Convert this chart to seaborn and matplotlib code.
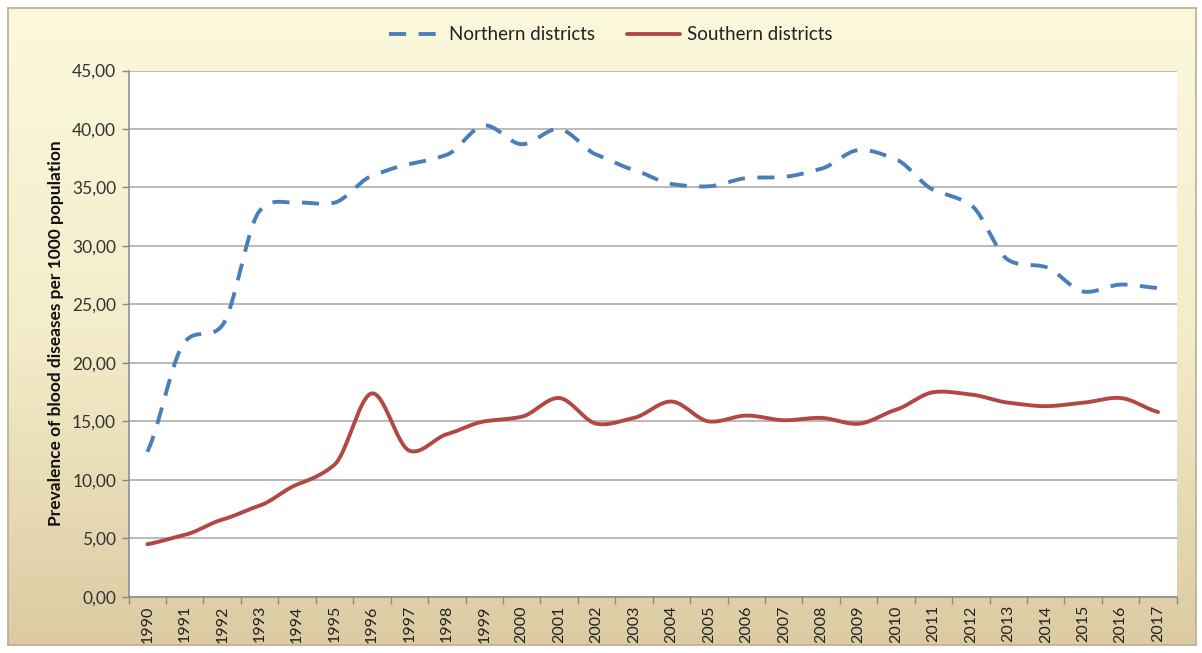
import numpy as np
import pandas as pd
import seaborn as sns
import matplotlib.pyplot as plt
from matplotlib.ticker import FuncFormatter, FixedLocator
from matplotlib.colors import LinearSegmentedColormap

years = list(range(1990, 2018))
northern = [12.4, 21.8, 23.2, 33.0, 33.7, 33.7, 36.0, 37.0, 37.8, 40.3,
            38.7, 40.0, 37.8, 36.5, 35.3, 35.1, 35.8, 35.9, 36.6, 38.2,
            37.4, 34.8, 33.5, 28.8, 28.2, 26.1, 26.7, 26.4]
southern = [4.5, 5.3, 6.6, 7.8, 9.6, 11.3, 17.4, 12.5, 13.9, 15.0,
            15.4, 17.0, 14.8, 15.3, 16.7, 15.0, 15.5, 15.1, 15.3, 14.8,
            16.0, 17.5, 17.3, 16.6, 16.3, 16.6, 17.0, 15.8]
series_names = ["Northern districts", "Southern districts"]


def smooth(y, n=20, k=0.7):
    # hermite curve through the points (softer than plain catmull-rom)
    y = np.asarray(y, dtype=float)
    m = np.zeros_like(y)
    m[1:-1] = k * (y[2:] - y[:-2]) / 2
    m[0] = k * (y[1] - y[0])
    m[-1] = k * (y[-1] - y[-2])
    xs, ys = [], []
    t = np.linspace(0, 1, n, endpoint=False)
    h00 = 2 * t ** 3 - 3 * t ** 2 + 1
    h10 = t ** 3 - 2 * t ** 2 + t
    h01 = -2 * t ** 3 + 3 * t ** 2
    h11 = t ** 3 - t ** 2
    for i in range(len(y) - 1):
        xs.append(i + t)
        ys.append(h00 * y[i] + h10 * m[i] + h01 * y[i + 1] + h11 * m[i + 1])
    xs.append([len(y) - 1])
    ys.append([y[-1]])
    return np.concatenate(xs), np.concatenate(ys)


sns.set_theme(style="white")
plt.rcParams['font.family'] = ['Lato', 'DejaVu Sans']

fig = plt.figure(figsize=(12.02, 6.53), dpi=100)

# cream-to-tan gradient background with a frame
bg = fig.add_axes([0.007, 0.012, 0.988, 0.975])
cmap = LinearSegmentedColormap.from_list("bg", ["#FBF8DC", "#F4EDCB", "#DCCBA2"])
bg.imshow(np.linspace(0, 1, 256).reshape(-1, 1), aspect="auto", cmap=cmap,
          extent=[0, 1, 0, 1])
bg.set_xticks([])
bg.set_yticks([])
for s in bg.spines.values():
    s.set_color("#B8B08E")
    s.set_linewidth(1.2)

ax = fig.add_axes([0.107, 0.086, 0.872, 0.806])
ax.set_facecolor("white")

xn, yn = smooth(northern)
xs_, ys_ = smooth(southern)
sns.lineplot(x=xn, y=yn, ax=ax, color="#4A7EBB", lw=2.8, label=series_names[0],
             estimator=None, sort=False)
ax.lines[-1].set_dashes([4.4, 3.2])
sns.lineplot(x=xs_, y=ys_, ax=ax, color="#B24846", lw=2.8, label=series_names[1],
             estimator=None, sort=False)

ax.set_xlim(-0.5, len(years) - 0.5)
ax.set_ylim(0, 45)
ax.set_yticks(np.arange(0, 46, 5))
ax.yaxis.set_major_formatter(FuncFormatter(lambda v, _: f"{v:.2f}".replace(".", ",")))
ax.yaxis.grid(True, color="#A6A6A6", lw=1.1)
ax.xaxis.grid(False)

ax.set_xticks(range(len(years)))
ax.set_xticklabels([str(y) for y in years], rotation=90)
ax.xaxis.set_minor_locator(FixedLocator(np.arange(-0.5, len(years), 1)))
ax.tick_params(axis="x", which="major", length=0, pad=6, labelsize=11.5, labelcolor="#222222")
ax.tick_params(axis="x", which="minor", length=5, color="#888888", width=1, direction="out", bottom=True)
ax.tick_params(axis="y", length=5, color="#888888", width=1, direction="out", left=True,
               labelsize=12.5, labelcolor="#333333", pad=4)

for side in ["top", "right"]:
    ax.spines[side].set_visible(False)
for side in ["left", "bottom"]:
    ax.spines[side].set_color("#888888")
    ax.spines[side].set_linewidth(1.1)

ax.set_xlabel("")
ax.set_ylabel("Prevalence of blood diseases per 1000 population", fontsize=12.5,
              fontweight="bold", color="#111111", labelpad=6)

leg = ax.legend(loc="lower center", bbox_to_anchor=(0.46, 1.02), ncol=2, frameon=False,
                fontsize=13.5, handlelength=2.8, columnspacing=1.75, handletextpad=0.4)
for t in leg.get_texts():
    t.set_color("#222222")

fig.savefig("out.png", dpi=100)
